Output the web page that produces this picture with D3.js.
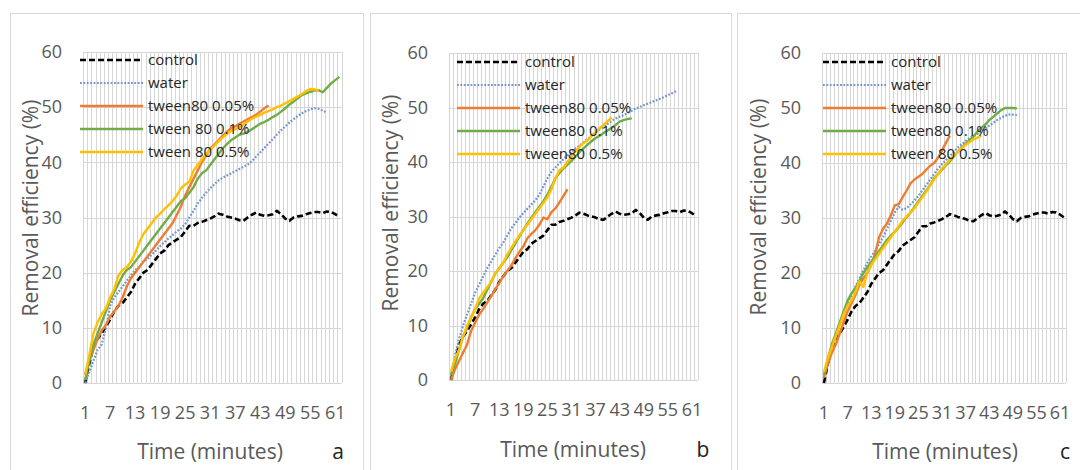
<!DOCTYPE html>
<html>
<head>
<meta charset="utf-8">
<script src="https://cdn.jsdelivr.net/npm/d3@7/dist/d3.min.js"></script>
<style>
  html, body { margin: 0; padding: 0; background: #fff; }
  svg { display: block; }
  text { font-family: "Open Sans", "Noto Sans", sans-serif; }
</style>
</head>
<body>
<svg id="chart" width="1080" height="470"></svg>
<script>
// Sampling minutes on the category axis and the labelled ticks
const minutes = Array.from({ length: 62 }, (_, i) => i + 1);
const tickLabels = [1, 7, 13, 19, 25, 31, 37, 43, 49, 55, 61];
const yTicks = [0, 10, 20, 30, 40, 50, 60];

// Removal efficiency (%) per minute
const control = [0, 3.5, 6.5, 8, 9, 10.2, 11.5, 13, 14, 14.5, 15.5, 16.5, 18, 19, 20, 20.5, 21.5, 22.5, 23.5, 24,
  25, 25.5, 26, 26.5, 27.5, 28.5, 28.5, 29, 29.2, 29.5, 29.8, 30.2, 30.7, 30.5, 30.2, 30, 29.8, 29.5, 29.4, 30,
  30.5, 30.9, 30.5, 30.3, 30.4, 30.6, 31.2, 30.6, 29.8, 29.4, 30, 30.2, 30.3, 30.6, 30.8, 31, 31, 30.8, 31.1, 31,
  30.6, 30.1];

// Panel a
const waterA = [0, 2, 4, 6, 7, 10, 14, 15.5, 16.5, 17.5, 18.5, 19.5, 20.5, 21, 22, 22.5, 23.3, 24, 24.8, 25.5,
  26.2, 26.8, 27.5, 28, 28.8, 30, 31.2, 32.5, 33.5, 34.5, 35.3, 36, 36.7, 37.2, 37.6, 38, 38.4, 38.8, 39.2, 39.6,
  40.2, 41, 41.8, 42.6, 43.4, 44.2, 45, 45.8, 46.5, 47.2, 47.8, 48.4, 48.9, 49.3, 49.6, 49.8, 49.7, 49.4, 49];
const tween005A = [1.5, 4, 6, 8, 9.5, 10.5, 12, 13, 14, 15.5, 17.5, 19, 20, 21, 22, 23, 24, 25, 26, 27,
  28, 29, 30.5, 32, 34, 35.5, 37, 38.5, 40, 41.2, 42.5, 43.2, 44, 44.8, 45.5, 46.2, 46.5, 47, 47.4, 47.8,
  48.2, 48.6, 49.2, 49.8, 50.3];
const tween01A = [0.5, 4, 7, 9, 11, 13, 15, 16.5, 18, 19.5, 20.5, 21, 22, 23, 24, 25, 26, 27, 28, 29,
  30, 31, 32, 33, 33.5, 34.5, 35.5, 37, 38, 38.5, 39.5, 40.5, 41.5, 42.5, 43.3, 44, 44.5, 45, 45.2, 45.5,
  46, 46.5, 47, 47.3, 47.7, 48.2, 48.6, 49.2, 49.8, 50.5, 51, 51.6, 52.2, 52.5, 52.8, 53, 53.1, 52.7, 53.5, 54.3,
  54.9, 55.5];
const tween05A = [1.5, 5, 9, 11, 12.5, 13.5, 15.5, 17, 19.5, 20.5, 21, 22, 23.5, 25.5, 27, 28, 29, 30, 30.7, 31.5,
  32.2, 33, 34, 35.3, 36, 36.5, 38.5, 39.5, 40.5, 41.5, 42.3, 43, 43.8, 44.5, 45.2, 45.7, 46, 46.3, 46.8, 47.4,
  47.9, 48.3, 48.6, 49, 49.3, 49.6, 50, 50.3, 50.7, 51.1, 51.5, 51.9, 52.4, 52.9, 53.3, 53.2, 53.1];

// Panel b
const waterB = [1, 4.5, 7.5, 10, 12, 14, 16, 17.5, 19, 20.5, 21.7, 23, 24.2, 25.2, 26.5, 27.8, 28.8, 29.8, 30.6, 31.4,
  32.2, 33, 34, 35.5, 37, 38.2, 39, 39.8, 40.5, 41.2, 41.8, 42.5, 43, 43.6, 44.2, 44.8, 45.4, 46, 46.5, 47,
  47.5, 48, 48.3, 48.6, 49, 49.4, 49.8, 50.1, 50.4, 50.7, 51, 51.3, 51.6, 51.9, 52.3, 52.6, 53];
const tween005B = [0, 2, 3.5, 5, 6.5, 9, 10.5, 12, 13, 14.2, 15.4, 16.6, 17.8, 19, 20, 21, 22.3, 23.5, 24.5, 26,
  26.8, 27.5, 28.5, 29.8, 29.5, 30.8, 31.5, 32.6, 33.8, 35];
const tween01B = [1, 3, 5.5, 8, 9.5, 11.5, 13, 14, 15, 16.5, 18, 19.5, 20.5, 21.5, 22.5, 23.8, 25, 26.3, 27.5, 28.7,
  29.8, 30.8, 31.8, 32.8, 34, 35.5, 37, 38, 38.8, 39.5, 40.2, 41, 41.8, 42.5, 43.2, 43.8, 44.4, 44.8, 45.3, 45.8,
  46.3, 46.8, 47.4, 47.7, 47.9, 48];
const tween05B = [1.5, 4, 5.5, 8, 10, 11.5, 13, 15, 16, 17, 18, 19.5, 20.5, 21.5, 23, 24.2, 25.4, 26.5, 27.5, 28.5,
  29.5, 30.5, 31.5, 32.5, 33.5, 35, 37, 38.5, 39, 40, 41, 42, 42.8, 43.5, 44, 44.8, 45.5, 46.2, 46.8, 47.5,
  48.2];

// Panel c
const waterC = [1, 4, 6.5, 8.5, 10.5, 12.5, 14.5, 16, 17.5, 19, 20.5, 21.8, 23, 24, 25.3, 26.5, 28, 29.5, 31, 32,
  31.5, 31.8, 32.5, 33.2, 34, 35, 36, 37, 38, 39, 39.8, 40.5, 41.3, 42, 42.8, 43.4, 44, 44.5, 45, 45.3,
  45.8, 46.3, 46.8, 47.3, 47.8, 48.2, 48.6, 48.8, 48.8, 48.7];
const tween005C = [1, 3.5, 5.5, 7, 9, 11, 13, 14.5, 16, 17.8, 19, 20, 21.5, 23.5, 26.5, 28, 29, 30.5, 32.3, 32.5,
  33.8, 35, 36.3, 37, 37.5, 38, 38.8, 39.5, 40, 41, 42.3, 43.7, 45];
const tween01C = [1.5, 4.5, 7, 9, 11, 13, 15, 16.3, 17.3, 18.5, 20, 21, 22, 23, 24, 25, 26, 26.8, 27.5, 28.3,
  29.2, 30.2, 31, 32, 33, 34, 35, 36, 37.2, 38, 38.8, 39.6, 40.3, 41.2, 42, 42.8, 43.5, 44.2, 44.8, 45.7,
  46.4, 47, 47.8, 48.4, 49, 49.6, 50, 50, 50, 49.9];
const tween05C = [2, 4.5, 6.5, 8.5, 10.5, 12.5, 14, 15, 16.5, 18.5, 17.5, 20, 21.5, 22.5, 23.5, 24.5, 25.5, 26.5, 27.5, 28.5,
  29.5, 30.3, 31, 31.8, 32.8, 33.8, 34.8, 36, 37, 38, 39, 39.8, 40.6, 41.3, 42, 42.7, 43.3, 43.8, 44.3, 44.6,
  45];

const legendA = ["control", "water", "tween80 0.05%", "tween 80 0.1%", "tween 80 0.5%"];
const legendB = ["control", "water", "tween80 0.05%", "tween80 0.1%", "tween80 0.5%"];
const legendC = ["control", "water", "tween80 0.05%", "tween80 0.1%", "tween 80 0.5%"];
const panelLetters = ["a", "b", "c"];

// Line styles in series order: control, water, 0.05%, 0.1%, 0.5%
const styles = [
  { color: "#000000", width: 2.6, dash: "6,3" },
  { color: "#7394cc", width: 2.2, dash: "1.8,1.6" },
  { color: "#ed7d31", width: 2.4, dash: null },
  { color: "#70ad47", width: 2.4, dash: null },
  { color: "#ffc000", width: 2.4, dash: null }
];

const panels = [
  { frame: { x: 10, w: 353 }, plot: { l: 83, r: 341.5, t: 52, b: 383 },
    series: [control, waterA, tween005A, tween01A, tween05A], legend: legendA,
    legendX: 80, legendY: 60, yTitleX: 31, yTitleY: 208, xTitleX: 210, xTitleY: 452, letterX: 338 },
  { frame: { x: 370, w: 361 }, plot: { l: 449, r: 698, t: 53, b: 380 },
    series: [control, waterB, tween005B, tween01B, tween05B], legend: legendB,
    legendX: 457, legendY: 62, yTitleX: 391, yTitleY: 203, xTitleX: 573, xTitleY: 450, letterX: 703 },
  { frame: { x: 737, w: 360 }, plot: { l: 822, r: 1066, t: 53, b: 383 },
    series: [control, waterC, tween005C, tween01C, tween05C], legend: legendC,
    legendX: 823, legendY: 62, yTitleX: 759, yTitleY: 207, xTitleX: 945, xTitleY: 452, letterX: 1065 }
];

const svg = d3.select("#chart");
const gridColor = "#d6d6d6";
const labelColor = "#595959";

panels.forEach((p, pi) => {
  const g = svg.append("g");

  // chart frame
  g.append("rect")
    .attr("x", p.frame.x + 0.5).attr("y", 13.5)
    .attr("width", p.frame.w).attr("height", 480)
    .attr("fill", "#fff").attr("stroke", "#d9d9d9").attr("stroke-width", 1);

  const x = d3.scaleBand().domain(minutes).range([p.plot.l, p.plot.r]).paddingInner(0).paddingOuter(0);
  const y = d3.scaleLinear().domain([0, 60]).range([p.plot.b, p.plot.t]);
  const bw = x.bandwidth();
  const crisp = v => Math.round(v) + 0.5;

  // vertical gridlines at category boundaries
  const edges = minutes.map(m => x(m)).concat([x(minutes[minutes.length - 1]) + bw]);
  g.append("g").selectAll("line").data(edges).join("line")
    .attr("x1", d => crisp(d)).attr("x2", d => crisp(d))
    .attr("y1", y(60)).attr("y2", y(0))
    .attr("stroke", gridColor).attr("stroke-width", 1);

  // horizontal gridlines
  g.append("g").selectAll("line").data(yTicks).join("line")
    .attr("x1", p.plot.l).attr("x2", p.plot.r)
    .attr("y1", d => crisp(y(d))).attr("y2", d => crisp(y(d)))
    .attr("stroke", gridColor).attr("stroke-width", 1);

  // y axis labels
  const yAxis = g.append("g")
    .attr("transform", `translate(${p.plot.l},0)`)
    .call(d3.axisLeft(y).tickValues(yTicks).tickSize(0).tickPadding(21));
  yAxis.select(".domain").remove();
  yAxis.selectAll("text")
    .attr("fill", labelColor).style("font-size", "18px")
    .style("font-family", '"Open Sans", sans-serif');

  // x axis labels
  const xAxis = g.append("g")
    .attr("transform", `translate(0,${p.plot.b})`)
    .call(d3.axisBottom(x).tickValues(tickLabels).tickSize(0));
  xAxis.select(".domain").remove();
  xAxis.selectAll("text")
    .attr("y", 23).attr("fill", labelColor).style("font-size", "18px")
    .style("font-family", '"Open Sans", sans-serif');

  // series
  const line = d3.line()
    .x((d, i) => x(minutes[i]) + bw / 2)
    .y(d => y(d));
  p.series.forEach((vals, si) => {
    const st = styles[si];
    g.append("path")
      .datum(vals)
      .attr("d", line)
      .attr("fill", "none")
      .attr("stroke", st.color)
      .attr("stroke-width", st.width)
      .attr("stroke-linejoin", "round")
      .attr("stroke-dasharray", st.dash);
  });

  // legend
  const lg = g.append("g");
  p.legend.forEach((name, li) => {
    const st = styles[li];
    const ly = p.legendY + li * 23;
    lg.append("line")
      .attr("x1", p.legendX).attr("x2", p.legendX + 63)
      .attr("y1", ly).attr("y2", ly)
      .attr("stroke", st.color).attr("stroke-width", st.width)
      .attr("stroke-dasharray", st.dash);
    lg.append("text")
      .attr("x", p.legendX + 68).attr("y", ly).attr("dy", "0.35em")
      .attr("fill", "#262626").style("font-size", "15px")
      .text(name);
  });

  // axis titles
  g.append("text")
    .attr("transform", `translate(${p.yTitleX},${p.yTitleY}) rotate(-90)`)
    .attr("text-anchor", "middle").attr("dy", "0.35em")
    .attr("fill", labelColor).style("font-size", "21px")
    .text("Removal efficiency (%)");
  g.append("text")
    .attr("x", p.xTitleX).attr("y", p.xTitleY).attr("dy", "0.35em")
    .attr("text-anchor", "middle")
    .attr("fill", labelColor).style("font-size", "21px")
    .text("Time (minutes)");
  g.append("text")
    .attr("x", p.letterX).attr("y", p.xTitleY).attr("dy", "0.35em")
    .attr("text-anchor", "middle")
    .attr("fill", "#222").style("font-size", "21px")
    .text(panelLetters[pi]);
});
</script>
</body>
</html>
